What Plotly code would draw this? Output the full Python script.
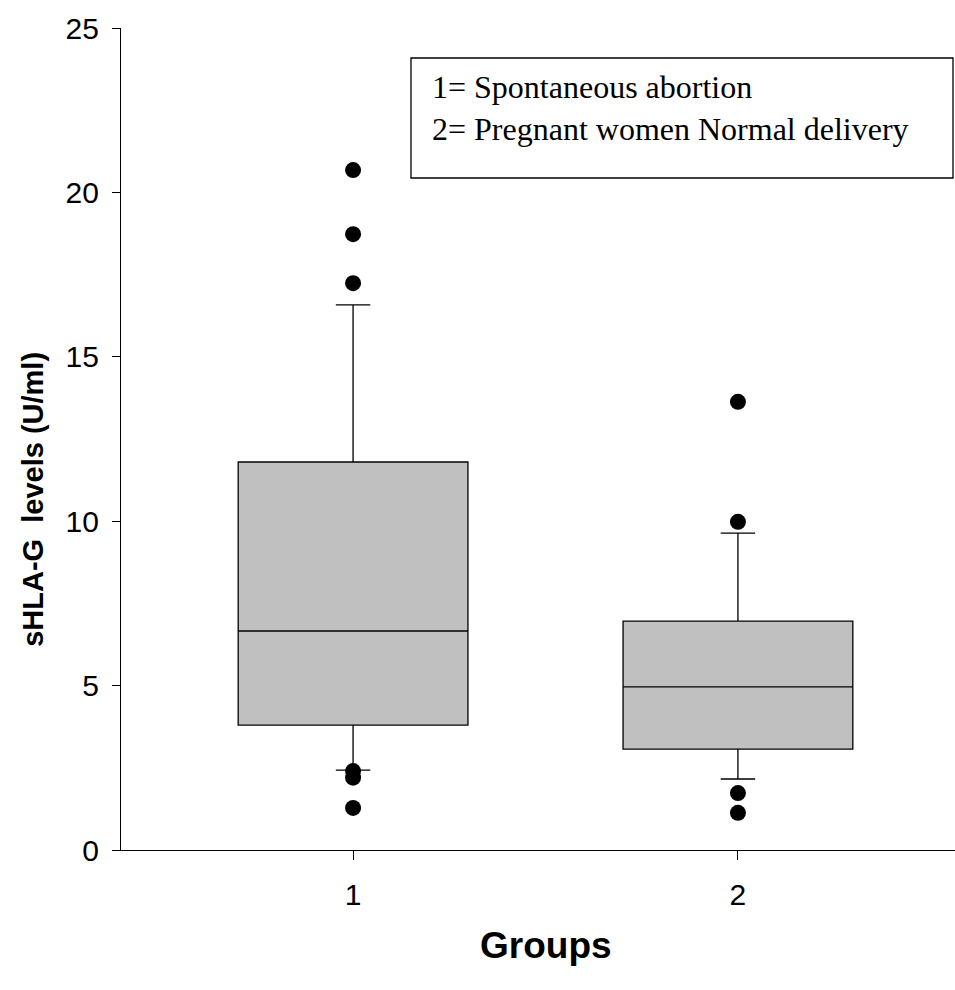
import plotly.graph_objects as go

groups = [1, 2]
q1 = [3.80, 3.07]
median = [6.66, 4.96]
q3 = [11.80, 6.96]
lower_whisker = [2.43, 2.16]
upper_whisker = [16.58, 9.64]

outlier_x = [1, 1, 1, 1, 1, 1, 2, 2, 2, 2]
outlier_y = [20.68, 18.73, 17.24, 2.40, 2.20, 1.28, 13.63, 9.98, 1.73, 1.13]

legend_lines = ["1= Spontaneous abortion", "2= Pregnant women Normal delivery"]

fig = go.Figure()
fig.add_trace(go.Box(
    x=groups, q1=q1, median=median, q3=q3,
    lowerfence=lower_whisker, upperfence=upper_whisker,
    fillcolor="#c0c0c0", line=dict(color="black", width=1.3),
    width=0.597, whiskerwidth=0.15, boxpoints=False, showlegend=False,
))
fig.add_trace(go.Scatter(
    x=outlier_x, y=outlier_y, mode="markers",
    marker=dict(color="black", size=16, symbol="circle"),
    showlegend=False, cliponaxis=False,
))

fig.update_layout(
    width=955, height=990,
    margin=dict(l=121, r=0, t=28, b=140),
    plot_bgcolor="white", paper_bgcolor="white",
    font=dict(family="Liberation Sans, Arial", color="black"),
    xaxis=dict(range=[0.397, 2.564], tickvals=groups, ticktext=[str(g) for g in groups],
               showline=True, linecolor="black", linewidth=1.3, ticks="outside",
               ticklen=9, tickcolor="black", showgrid=False, zeroline=False,
               ticklabelstandoff=9,
               tickfont=dict(size=30, family="Liberation Sans, Arial")),
    yaxis=dict(range=[0, 25], tickvals=[0, 5, 10, 15, 20, 25],
               showline=True, linecolor="black", linewidth=1.3, ticks="outside",
               ticklen=8, tickcolor="black", showgrid=False, zeroline=False,
               ticklabelstandoff=7,
               tickfont=dict(size=30, family="Liberation Sans, Arial")),
    annotations=[
        dict(text="<b>sHLA-G  levels (U/ml)</b>", textangle=-90, xref="paper", yref="paper",
             x=-0.1055, y=0.426, xanchor="center", yanchor="middle", showarrow=False,
             font=dict(size=29, family="Liberation Sans, Arial")),
        dict(text="<b>Groups</b>", xref="paper", yref="paper", x=0.51, y=-0.1156,
             xanchor="center", yanchor="middle", showarrow=False,
             font=dict(size=37, family="Liberation Sans, Arial")),
        dict(text="<br>".join(legend_lines), xref="paper", yref="paper",
             x=0.371, y=0.9526, xanchor="left", yanchor="top", align="left",
             showarrow=False, font=dict(size=32, family="Liberation Serif, Times New Roman")),
    ],
    shapes=[dict(type="rect", xref="paper", yref="paper", x0=0.3477, x1=0.9976,
                 y0=0.8175, y1=0.9635, line=dict(color="black", width=1.3))],
)

fig.write_html("out.html", config={"displayModeBar": False},
               post_script="document.body.style.margin='0';document.body.style.overflow='hidden';")
